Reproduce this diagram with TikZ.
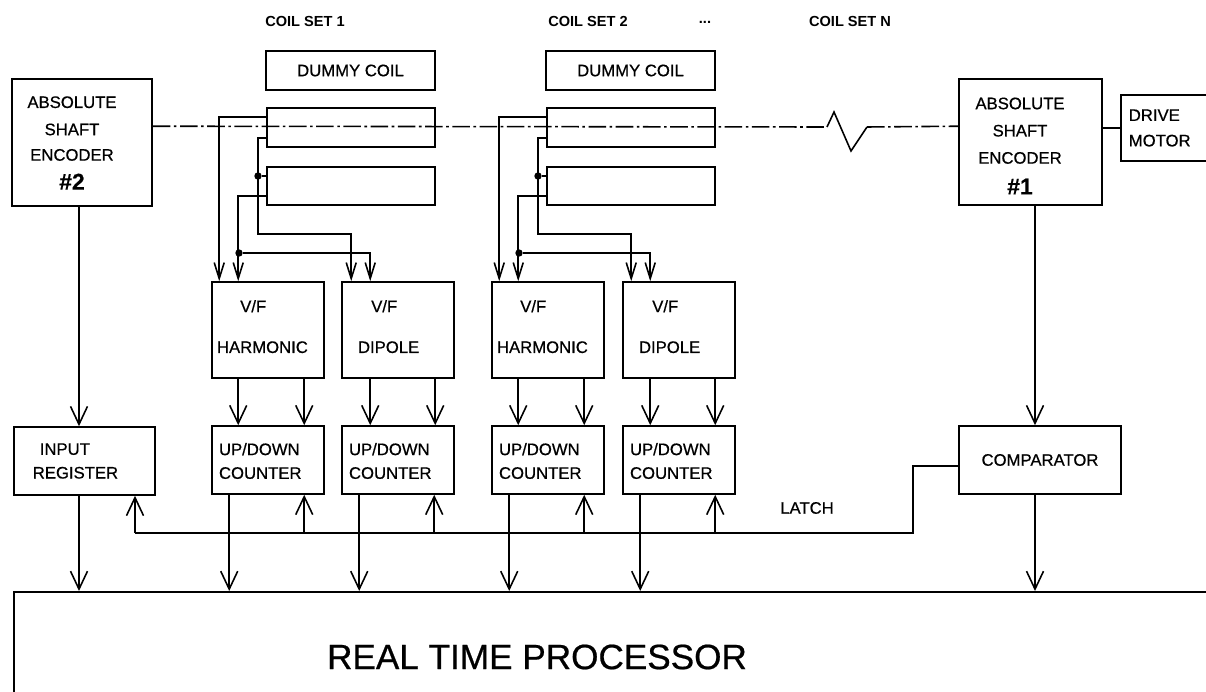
\documentclass[tikz,border=0pt]{standalone}
\usepackage{fontspec}
\setmainfont{Liberation Sans}
\newfontfamily\diagfont{Liberation Sans}[FakeBold=0.6]
\usetikzlibrary{arrows.meta, calc}

\begin{document}
\begin{tikzpicture}[
  x=0.02cm, y=-0.02cm,
  line width=0.9pt,
  box/.style={draw, inner sep=0pt},
  txt/.style={inner sep=0pt, font=\diagfont\fontsize{9.5}{11.5}\selectfont},
  ttl/.style={inner sep=0pt, font=\fontsize{8.3}{10}\selectfont\bfseries},
  coil/.style={box, minimum width=3.36cm, minimum height=0.78cm},
  vf/.style={box, minimum width=2.24cm, minimum height=1.92cm},
  cnt/.style={box, minimum width=2.24cm, minimum height=1.36cm},
  arr/.style={-{Straight Barb[length=3.6mm, width=3.4mm]}},
  sarr/.style={-{Straight Barb[length=3.2mm, width=2mm]}},
  shaft/.style={dash pattern=on 10pt off 2pt on 1.5pt off 2pt},
  dot/.style={circle, fill, inner sep=0pt, minimum size=4.2pt},
]
\useasboundingbox (0,0) rectangle (1206,692);
\clip (0,0) rectangle (1206,692);

% titles
\node[ttl] (set1)    at (305,21) {COIL SET 1};
\node[ttl] (set2)    at (588,21) {COIL SET 2};
\node[ttl] (setdots) at (705,22) {...};
\node[ttl] (setN)    at (850,21) {COIL SET N};

% encoders and motor
\node[box, minimum width=2.8cm, minimum height=2.54cm] (enc2) at (82,142.5) {};
\node[txt, align=center] (enc2t) at (72,143)
  {ABSOLUTE\\[4pt]SHAFT\\[3pt]ENCODER\\[5pt]{\fontsize{13}{13}\selectfont\bfseries\#2}};
\node[box, minimum width=2.86cm, minimum height=2.52cm] (enc1) at (1030.5,142) {};
\node[txt, align=center] (enc1t) at (1020,146)
  {ABSOLUTE\\[4pt]SHAFT\\[4pt]ENCODER\\[6pt]{\fontsize{13}{13}\selectfont\bfseries\#1}};
\node[box, anchor=west, minimum width=2.4cm, minimum height=1.32cm] (motor) at (1120,128) {};
\node[txt, anchor=west, align=left] (motort) at (1128,128) {DRIVE\\[3pt]MOTOR};
\draw (enc1.east |- motor.west) -- (motor.west);

% coil set 1
\node[box, txt, minimum width=3.38cm, minimum height=0.78cm] (dummy1) at (350.5,70.5) {DUMMY COIL};
\node[coil] (coilA1) at (351,127.5) {};
\node[coil, minimum height=0.76cm] (coilB1) at (351,186) {};
\node[vf] (vfh1) at (268,330) {};
\node[vf] (vfd1) at (398,330) {};
\node[txt] (vfh1v) at ($(vfh1.north west)+(42,25)$) {V/F};
\node[txt, anchor=west] (vfh1n) at ($(vfh1.north west)+(5,66)$) {HARMONIC};
\node[txt] (vfd1v) at ($(vfd1.north west)+(43,25)$) {V/F};
\node[txt, anchor=west] (vfd1n) at ($(vfd1.north west)+(16,66)$) {DIPOLE};
\node[cnt] (cnt1a) at (268,460) {};
\node[cnt] (cnt1b) at (398,460) {};
\node[txt, anchor=west, align=left] (cnt1at) at ($(cnt1a.west)+(7,1)$) {UP/DOWN\\[2pt]COUNTER};
\node[txt, anchor=west, align=left] (cnt1bt) at ($(cnt1b.west)+(7,1)$) {UP/DOWN\\[2pt]COUNTER};

\draw[sarr] ($(coilA1.north west)+(0,10)$) -| ($(vfh1.north west)+(8,0)$);
\draw[sarr] ($(coilA1.south west)+(0,-10)$) -| (258,234) -| ($(vfd1.north west)+(10,0)$);
\node[dot] (j1a) at (258,176) {};
\draw (j1a) -- (j1a -| coilB1.west);
\draw[sarr] ($(coilB1.south west)+(0,-10)$) -| ($(vfh1.north west)+(27,0)$);
\node[dot] (j1b) at (239,253) {};
\draw[sarr] (j1b) -| ($(vfd1.north west)+(29,0)$);

% coil set 2
\node[box, txt, minimum width=3.38cm, minimum height=0.78cm] (dummy2) at (630.5,70.5) {DUMMY COIL};
\node[coil] (coilA2) at (631,127.5) {};
\node[coil, minimum height=0.76cm] (coilB2) at (631,186) {};
\node[vf] (vfh2) at (548,330) {};
\node[vf] (vfd2) at (679,330) {};
\node[txt] (vfh2v) at ($(vfh2.north west)+(42,25)$) {V/F};
\node[txt, anchor=west] (vfh2n) at ($(vfh2.north west)+(5,66)$) {HARMONIC};
\node[txt] (vfd2v) at ($(vfd2.north west)+(43,25)$) {V/F};
\node[txt, anchor=west] (vfd2n) at ($(vfd2.north west)+(16,66)$) {DIPOLE};
\node[cnt] (cnt2a) at (548,460) {};
\node[cnt] (cnt2b) at (679,460) {};
\node[txt, anchor=west, align=left] (cnt2at) at ($(cnt2a.west)+(7,1)$) {UP/DOWN\\[2pt]COUNTER};
\node[txt, anchor=west, align=left] (cnt2bt) at ($(cnt2b.west)+(7,1)$) {UP/DOWN\\[2pt]COUNTER};

\draw[sarr] ($(coilA2.north west)+(0,10)$) -| ($(vfh2.north west)+(8,0)$);
\draw[sarr] ($(coilA2.south west)+(0,-10)$) -| (538,234) -| ($(vfd2.north west)+(9,0)$);
\node[dot] (j2a) at (538,176) {};
\draw (j2a) -- (j2a -| coilB2.west);
\draw[sarr] ($(coilB2.south west)+(0,-10)$) -| ($(vfh2.north west)+(27,0)$);
\node[dot] (j2b) at (519,253) {};
\draw[sarr] (j2b) -| ($(vfd2.north west)+(28,0)$);

% shaft
\coordinate (zz1) at (827,127);
\coordinate (zz2) at (867,127);
\draw[shaft] ($(enc2.north east)+(0,48)$) -- (zz1);
\draw (zz1) -- (834,112) -- (851,151) -- (zz2);
\draw[shaft] (zz2) -- ($(enc1.north west)+(0,48)$);

% register, comparator, processor
\node[box, minimum width=2.82cm, minimum height=1.36cm] (inreg) at (84.5,461) {};
\node[txt, anchor=west, align=left] (inregt) at (32,461) {\hspace*{4pt}INPUT\\[2pt]REGISTER};
\node[box, txt, minimum width=3.24cm, minimum height=1.36cm] (comp) at (1040,460) {COMPARATOR};
\node[box, anchor=north west, minimum width=24.6cm, minimum height=3cm] (rtp) at (13,591) {};
\node[inner sep=0pt, font=\diagfont\fontsize{20}{24}\selectfont] (rtpt) at (537,657) {REAL TIME PROCESSOR};
\node[txt] (latch) at (807,508) {LATCH};

\coordinate (c2) at (79,0);
\coordinate (c1) at (1035,0);
\draw[arr] (enc2.south -| c2) -- (inreg.north -| c2);
\draw[arr] (inreg.south -| c2) -- (rtp.north -| c2);
\draw[arr] (enc1.south -| c1) -- (comp.north -| c1);
\draw[arr] (comp.south -| c1) -- (rtp.north -| c1);

% V/F to counters
\draw[arr] ($(vfh1.south west)+(27,0)$) -- ($(cnt1a.north west)+(27,0)$);
\draw[arr] ($(vfh1.south west)+(93,0)$) -- ($(cnt1a.north west)+(93,0)$);
\draw[arr] ($(vfd1.south west)+(29,0)$) -- ($(cnt1b.north west)+(29,0)$);
\draw[arr] ($(vfd1.south west)+(94,0)$) -- ($(cnt1b.north west)+(94,0)$);
\draw[arr] ($(vfh2.south west)+(27,0)$) -- ($(cnt2a.north west)+(27,0)$);
\draw[arr] ($(vfh2.south west)+(93,0)$) -- ($(cnt2a.north west)+(93,0)$);
\draw[arr] ($(vfd2.south west)+(28,0)$) -- ($(cnt2b.north west)+(28,0)$);
\draw[arr] ($(vfd2.south west)+(93,0)$) -- ($(cnt2b.north west)+(93,0)$);

% counters to processor
\draw[arr] ($(cnt1a.south west)+(18,0)$) coordinate (o1a) -- (o1a |- rtp.north);
\draw[arr] ($(cnt1b.south west)+(18,0)$) coordinate (o1b) -- (o1b |- rtp.north);
\draw[arr] ($(cnt2a.south west)+(18,0)$) coordinate (o2a) -- (o2a |- rtp.north);
\draw[arr] ($(cnt2b.south west)+(18,0)$) coordinate (o2b) -- (o2b |- rtp.north);

% latch bus
\coordinate (lw) at (135,533);
\coordinate (le) at (913,533);
\draw ($(comp.west)+(0,6)$) -| (le) -- (lw);
\draw[arr] (lw) -- (lw |- inreg.south);
\draw[arr] ($(cnt1a.south west)+(93,39)$) -- ($(cnt1a.south west)+(93,0)$);
\draw[arr] ($(cnt1b.south west)+(93,39)$) -- ($(cnt1b.south west)+(93,0)$);
\draw[arr] ($(cnt2a.south west)+(93,39)$) -- ($(cnt2a.south west)+(93,0)$);
\draw[arr] ($(cnt2b.south west)+(93,39)$) -- ($(cnt2b.south west)+(93,0)$);
\end{tikzpicture}
\end{document}
